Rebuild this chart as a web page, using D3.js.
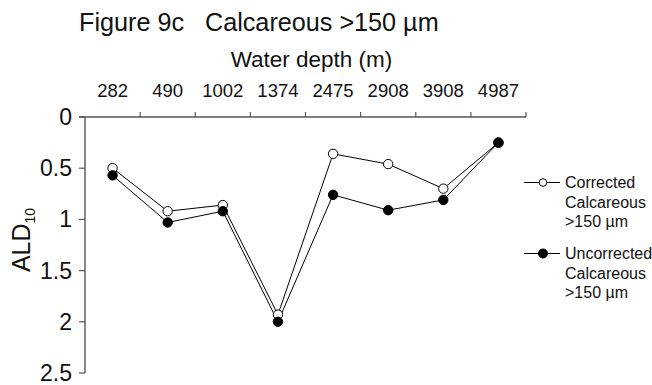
<!DOCTYPE html>
<html>
<head>
<meta charset="utf-8">
<script src="https://cdn.jsdelivr.net/npm/d3@7"></script>
<style>
  body { margin: 0; background: #fff; }
  text { font-family: Arial, "Liberation Sans", sans-serif; fill: #111; }
</style>
</head>
<body>
<div id="chart"></div>
<script>
const depths = ["282", "490", "1002", "1374", "2475", "2908", "3908", "4987"];
const corrected = [0.50, 0.92, 0.86, 1.93, 0.36, 0.46, 0.70, 0.25];
const uncorrected = [0.57, 1.03, 0.92, 2.00, 0.76, 0.91, 0.81, 0.25];
const yTicks = [0, 0.5, 1, 1.5, 2, 2.5];

const W = 652, H = 385;
const plotLeft = 85, plotRight = 526, plotTop = 117, plotBottom = 373;

const svg = d3.select("#chart").append("svg")
    .attr("width", W)
    .attr("height", H);

const x = d3.scaleBand()
    .domain(depths)
    .range([plotLeft, plotRight])
    .padding(0);

const y = d3.scaleLinear()
    .domain([0, 2.5])
    .range([plotTop, plotBottom]);

// top axis, ticks at band edges
const edges = depths.map(d => x(d)).concat([plotRight]);
svg.append("line")
    .attr("x1", plotLeft - 6).attr("x2", plotRight)
    .attr("y1", plotTop).attr("y2", plotTop)
    .attr("stroke", "#555").attr("stroke-width", 1.4);
svg.selectAll(".xtick")
    .data(edges.slice(1))
    .enter().append("line")
    .attr("x1", d => d).attr("x2", d => d)
    .attr("y1", plotTop).attr("y2", plotTop - 5)
    .attr("stroke", "#555").attr("stroke-width", 1.2);

svg.selectAll(".xlabel")
    .data(depths)
    .enter().append("text")
    .attr("x", d => x(d) + x.bandwidth() / 2)
    .attr("y", 97)
    .attr("text-anchor", "middle")
    .style("font-size", "18.5px")
    .text(d => d);

// left axis
svg.append("line")
    .attr("x1", plotLeft).attr("x2", plotLeft)
    .attr("y1", plotTop).attr("y2", plotBottom)
    .attr("stroke", "#555").attr("stroke-width", 1.4);
svg.selectAll(".ytick")
    .data(yTicks)
    .enter().append("line")
    .attr("x1", plotLeft - 6).attr("x2", plotLeft)
    .attr("y1", d => y(d)).attr("y2", d => y(d))
    .attr("stroke", "#555").attr("stroke-width", 1.2);
svg.selectAll(".ylabel")
    .data(yTicks)
    .enter().append("text")
    .attr("x", 72)
    .attr("y", d => y(d) + 8)
    .attr("text-anchor", "end")
    .style("font-size", "23px")
    .text(d => d);

// titles
svg.append("text")
    .attr("x", 79).attr("y", 31)
    .style("font-size", "25.2px")
    .attr("xml:space", "preserve")
    .text("Figure 9c   Calcareous >150 µm");

svg.append("text")
    .attr("x", 311.5).attr("y", 67)
    .attr("text-anchor", "middle")
    .style("font-size", "22.5px")
    .text("Water depth (m)");

const yl = svg.append("text")
    .attr("transform", "translate(30,240) rotate(-90)")
    .attr("text-anchor", "middle")
    .style("font-size", "25px");
yl.append("tspan").text("ALD");
yl.append("tspan").attr("dy", 5).style("font-size", "14px").text("10");

// series
const line = d3.line()
    .x((d, i) => x(depths[i]) + x.bandwidth() / 2)
    .y(d => y(d));

const series = [
  { name: "Corrected", values: corrected, fill: "#fff" },
  { name: "Uncorrected", values: uncorrected, fill: "#000" }
];

series.forEach(s => {
  svg.append("path")
      .datum(s.values)
      .attr("d", line)
      .attr("fill", "none")
      .attr("stroke", "#000")
      .attr("stroke-width", 1);
});
series.forEach(s => {
  svg.selectAll(null)
      .data(s.values)
      .enter().append("circle")
      .attr("cx", (d, i) => x(depths[i]) + x.bandwidth() / 2)
      .attr("cy", d => y(d))
      .attr("r", 4.7)
      .attr("fill", s.fill)
      .attr("stroke", "#000")
      .attr("stroke-width", 1);
});

// legend
const legend = [
  { lines: ["Corrected", "Calcareous", ">150 µm"], fill: "#fff", r: 3.8, y: 182.5 },
  { lines: ["Uncorrected", "Calcareous", ">150 µm"], fill: "#000", r: 4.5, y: 253.5 }
];
legend.forEach(l => {
  svg.append("line")
      .attr("x1", 524).attr("x2", 560)
      .attr("y1", l.y).attr("y2", l.y)
      .attr("stroke", "#000").attr("stroke-width", 1);
  svg.append("circle")
      .attr("cx", 543).attr("cy", l.y).attr("r", l.r)
      .attr("fill", l.fill).attr("stroke", "#000");
  l.lines.forEach((t, i) => {
    svg.append("text")
        .attr("x", 565)
        .attr("y", l.y + 5.5 + i * 19.5)
        .style("font-size", "16px")
        .text(t);
  });
});
</script>
</body>
</html>
